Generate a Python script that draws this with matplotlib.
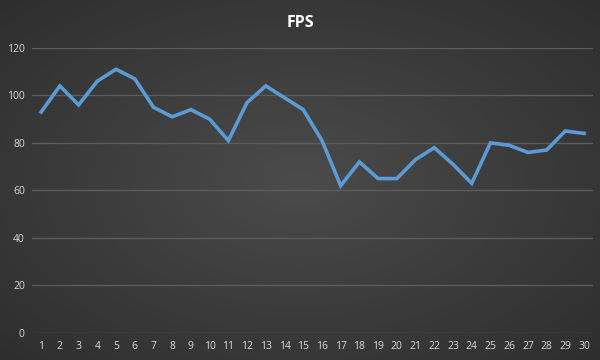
import numpy as np
import matplotlib
matplotlib.use('Agg')
import matplotlib.pyplot as plt
from matplotlib.colors import LinearSegmentedColormap

# FPS per sample
samples = list(range(1, 31))
fps = [93, 104, 96, 106, 111, 107, 95, 91, 94, 90,
       81, 97, 104, 99, 94, 81, 62, 72, 65, 65,
       73, 78, 71, 63, 80, 79, 76, 77, 85, 84]
yticks = [0, 20, 40, 60, 80, 100, 120]

plt.rcParams['font.family'] = ['Open Sans', 'DejaVu Sans']

fig = plt.figure(figsize=(6, 3.6), dpi=100)

# radial gradient background
bg = fig.add_axes([0, 0, 1, 1], zorder=0)
gx, gy = np.meshgrid(np.linspace(-1, 1, 300), np.linspace(-1, 1, 180))
r = np.sqrt(gx**2 + gy**2) / np.sqrt(2)
cmap = LinearSegmentedColormap.from_list('bg', ['#4b4b4b', '#3c3c3c', '#2e2e2e'])
bg.imshow(r, cmap=cmap, aspect='auto', extent=[0, 1, 0, 1], vmin=0, vmax=1)
bg.axis('off')

ax = fig.add_axes([0.053, 0.075, 0.936, 0.792], zorder=1)
ax.patch.set_alpha(0)
ax.plot(samples, fps, color='#5b9bd5', lw=2.6, solid_joinstyle='miter', zorder=3)

ax.set_xlim(0.5, 30.5)
ax.set_ylim(0, 120)
ax.set_xticks(samples)
ax.set_yticks(yticks)
ax.grid(axis='y', color='#5c5c5c', lw=1)
ax.set_axisbelow(True)
for s in ax.spines.values():
    s.set_visible(False)
ax.tick_params(length=0, colors='#d9d9d9', labelsize=7.5)
ax.tick_params(axis='y', pad=5)
ax.tick_params(axis='x', pad=6)

fig.text(0.5, 0.935, 'FPS', ha='center', va='center', color='white',
         fontsize=11.5, fontweight='bold')

fig.savefig('out.png', dpi=100)
